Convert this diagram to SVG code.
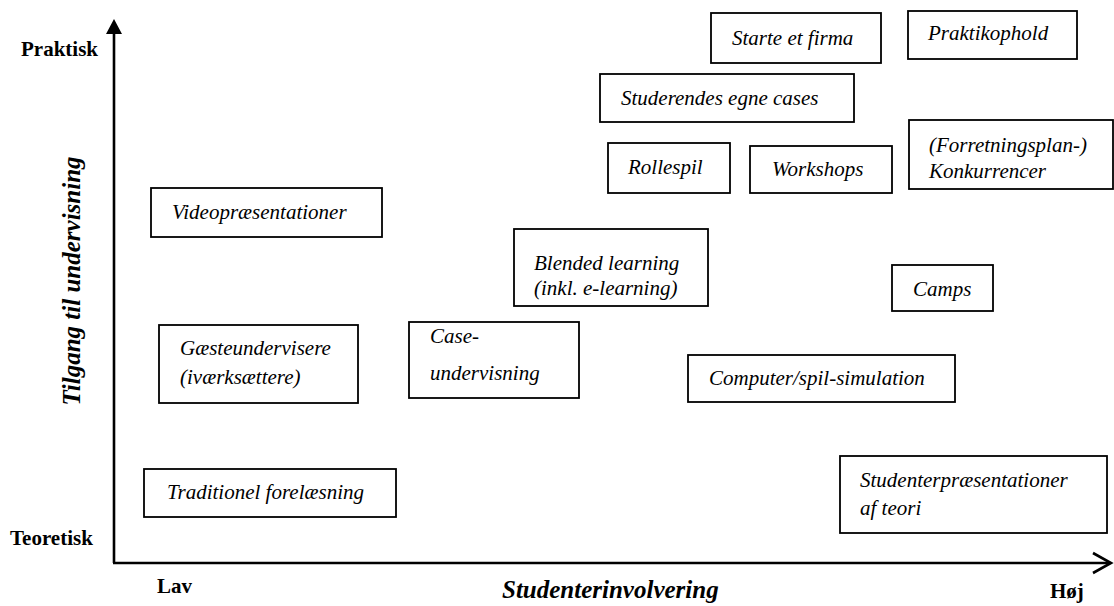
<svg xmlns="http://www.w3.org/2000/svg" width="1114" height="606" viewBox="0 0 1114 606">
  <style>
    .box { fill: #ffffff; stroke: #000000; stroke-width: 1.8; }
    .lbl { font-family: "Liberation Serif", "Times New Roman", serif; font-style: italic; font-size: 21px; fill: #000000; }
    .pole { font-family: "Liberation Serif", "Times New Roman", serif; font-weight: bold; font-size: 21px; fill: #000000; }
    .axtitle { font-family: "Liberation Serif", "Times New Roman", serif; font-weight: bold; font-style: italic; font-size: 25px; fill: #000000; }
    .axis { stroke: #000000; stroke-width: 2.6; fill: none; }
  </style>
  <rect width="1114" height="606" fill="#ffffff"/>

  <!-- axes -->
  <g id="connectors">
    <line class="axis" x1="114" y1="30" x2="114" y2="563"/>
    <polygon points="114,19 106,34 122,34" fill="#000000"/>
    <line class="axis" x1="113" y1="563" x2="1110" y2="563"/>
    <polyline class="axis" points="1093,553 1111,563 1093,573"/>
  </g>

  <!-- axis labels -->
  <g id="axis-labels">
    <text class="pole" x="21" y="56">Praktisk</text>
    <text class="pole" x="10" y="545">Teoretisk</text>
    <text class="pole" x="157" y="593">Lav</text>
    <text class="pole" x="1050" y="598">Høj</text>
    <text class="axtitle" x="502" y="598">Studenterinvolvering</text>
    <text class="axtitle" x="0" y="0" text-anchor="middle" transform="translate(80,281) rotate(-90)">Tilgang til undervisning</text>
  </g>

  <g id="starte-firma">
    <rect class="box" x="711" y="13" width="170" height="50"/>
    <text class="lbl" x="732" y="45">Starte et firma</text>
  </g>
  <g id="praktikophold">
    <rect class="box" x="908" y="11" width="169" height="48"/>
    <text class="lbl" x="928" y="40">Praktikophold</text>
  </g>
  <g id="egne-cases">
    <rect class="box" x="600" y="74" width="254" height="48"/>
    <text class="lbl" x="621" y="105">Studerendes egne cases</text>
  </g>
  <g id="rollespil">
    <rect class="box" x="608" y="143" width="122" height="50"/>
    <text class="lbl" x="628" y="174">Rollespil</text>
  </g>
  <g id="workshops">
    <rect class="box" x="750" y="146" width="142" height="47"/>
    <text class="lbl" x="772" y="176">Workshops</text>
  </g>
  <g id="konkurrencer">
    <rect class="box" x="909" y="120" width="204" height="69"/>
    <text class="lbl" x="929" y="152">(Forretningsplan-)</text>
    <text class="lbl" x="929" y="178">Konkurrencer</text>
  </g>
  <g id="video">
    <rect class="box" x="151" y="188" width="231" height="49"/>
    <text class="lbl" x="172" y="219">Videopræsentationer</text>
  </g>
  <g id="blended">
    <rect class="box" x="514" y="229" width="194" height="77"/>
    <text class="lbl" x="534" y="270">Blended learning</text>
    <text class="lbl" x="534" y="295">(inkl. e-learning)</text>
  </g>
  <g id="camps">
    <rect class="box" x="892" y="265" width="101" height="46"/>
    <text class="lbl" x="913" y="296">Camps</text>
  </g>
  <g id="gaester">
    <rect class="box" x="159" y="325" width="199" height="78"/>
    <text class="lbl" x="180" y="355">Gæsteundervisere</text>
    <text class="lbl" x="180" y="384">(iværksættere)</text>
  </g>
  <g id="case">
    <rect class="box" x="409" y="322" width="170" height="76"/>
    <text class="lbl" x="430" y="343">Case-</text>
    <text class="lbl" x="430" y="380">undervisning</text>
  </g>
  <g id="simulation">
    <rect class="box" x="688" y="355" width="267" height="47"/>
    <text class="lbl" x="709" y="385">Computer/spil-simulation</text>
  </g>
  <g id="forelaesning">
    <rect class="box" x="144" y="469" width="252" height="48"/>
    <text class="lbl" x="167" y="499">Traditionel forelæsning</text>
  </g>
  <g id="studenterpraesentationer">
    <rect class="box" x="840" y="456" width="267" height="77"/>
    <text class="lbl" x="860" y="487">Studenterpræsentationer</text>
    <text class="lbl" x="860" y="515">af teori</text>
  </g>
</svg>
